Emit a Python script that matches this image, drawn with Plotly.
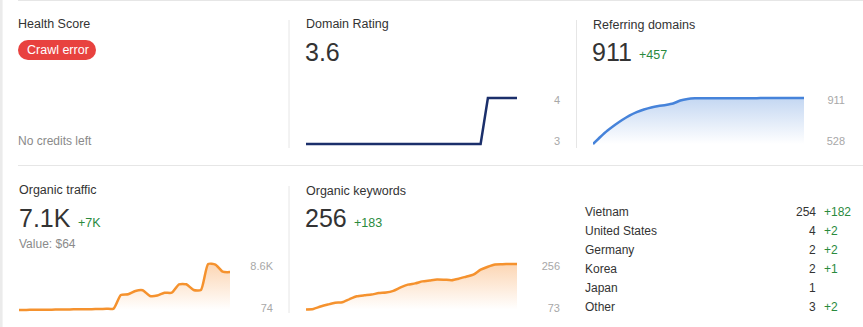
import plotly.graph_objects as go

W, H = 863, 327

# ---------------- data ----------------
dr_values = [3.0, 3.0, 3.0, 3.0, 3.0, 3.0, 3.0, 3.0, 3.0, 3.0,
             3.0, 3.0, 3.0, 3.0, 3.0, 3.0, 3.0, 3.0, 3.0, 3.0,
             3.0, 3.0, 3.0, 3.0, 3.0, 3.6, 3.6, 3.6, 3.6, 3.6]
dr_ticks = ["3", "4"]

rd_values = [528, 586, 640, 686, 728, 765, 794, 815, 832, 844,
             853, 865, 890, 903, 908, 909, 909, 909, 908, 908,
             908, 908, 909, 910, 911, 911, 911, 911, 911, 911]
rd_ticks = ["528", "911"]

traffic_values = [74, 90, 105, 120, 135, 150, 165, 185, 200, 215,
                  235, 255, 300, 330, 2854, 2984, 3596, 3725, 2669, 2750,
                  3280, 3280, 4837, 4837, 3781, 3781, 8600, 8500, 7173, 7100]
traffic_ticks = ["74", "8.6K"]

kw_values = [73, 75, 85, 93, 100, 102, 115, 126, 130, 133,
             139, 141, 148, 162, 173, 178, 186, 190, 194, 193,
             191, 197, 205, 213, 233, 245, 254, 255, 256, 256]
kw_ticks = ["73", "256"]

countries = ["Vietnam", "United States", "Germany", "Korea", "Japan", "Other"]
country_keywords = [254, 4, 2, 2, 1, 3]
country_change = [182, 2, 2, 1, 0, 2]

headline = {
    "dr": "3.6",
    "rd": "911", "rd_delta": "+457",
    "traffic": "7.1K", "traffic_delta": "+7K", "traffic_value": "Value: $64",
    "kw": "256", "kw_delta": "+183",
}

# ---------------- styling ----------------
FONT = "Liberation Sans, Arial, sans-serif"
DARK = "#333333"
GREEN = "#2a8a3d"
GREY = "#8a8a8a"
TICK = "#a8a8a8"
DIV = "#e6e6e6"
ORANGE = "#f5922e"
ORANGE_FILL = "#fcd6b4"
BLUE = "#4683da"
BLUE_FILL = "#c4d7f2"
NAVY = "#1b2f6b"


def px(x):
    return x / W


def py(y):
    return 1 - y / H


fig = go.Figure()

# chart boxes in pixels: x0, x1, y of max line, y of min line, plot top, plot bottom,
# right edge of the min/max labels, and how far the labels sit inside the extremes
panels = [
    dict(values=dr_values, ticks=dr_ticks, color=NAVY, fill=None, shape="linear",
         x0=306, x1=517, ymax=98, ymin=144, top=94, bot=148, lab=560, inset=(2.5, 2.5)),
    dict(values=rd_values, ticks=rd_ticks, color=BLUE, fill=BLUE_FILL, shape="spline",
         x0=593, x1=804, ymax=98, ymin=144, top=94, bot=148, lab=845, inset=(2.5, 2.5)),
    dict(values=traffic_values, ticks=traffic_ticks, color=ORANGE, fill=ORANGE_FILL, shape="spline",
         x0=19, x1=230, ymax=264, ymin=310, top=260, bot=313, lab=273, inset=(2, 2)),
    dict(values=kw_values, ticks=kw_ticks, color=ORANGE, fill=ORANGE_FILL, shape="spline",
         x0=306, x1=517, ymax=264, ymin=309.5, top=260, bot=313, lab=560, inset=(1.5, 2)),
]

for i, p in enumerate(panels, start=1):
    vals = p["values"]
    lo, hi = min(vals), max(vals)
    per_px = (hi - lo) / (p["ymin"] - p["ymax"])
    yrange = [lo - (p["bot"] - p["ymin"]) * per_px, hi + (p["ymax"] - p["top"]) * per_px]
    xs = list(range(len(vals)))
    xa = "x" if i == 1 else f"x{i}"
    ya = "y" if i == 1 else f"y{i}"
    trace = dict(
        x=xs, y=vals, mode="lines", xaxis=xa, yaxis=ya,
        line=dict(color=p["color"], width=2.5, shape=p["shape"],
                  **({"smoothing": 0.6} if p["shape"] == "spline" else {})),
        hoverinfo="skip", showlegend=False,
    )
    if p["fill"]:
        trace.update(
            fill="tozeroy",
            fillgradient=dict(type="vertical",
                              colorscale=[[0, "rgba(255,255,255,1)"], [1, p["fill"]]],
                              start=lo, stop=hi),
        )
    fig.add_trace(go.Scatter(**trace))

    in_lo, in_hi = p["inset"]
    xkey = "xaxis" if i == 1 else f"xaxis{i}"
    ykey = "yaxis" if i == 1 else f"yaxis{i}"
    fig.update_layout(**{
        xkey: dict(domain=[px(p["x0"]), px(p["x1"])], range=[0, len(vals) - 1],
                   visible=False, anchor=ya, fixedrange=True),
        ykey: dict(domain=[py(p["bot"]), py(p["top"])], range=yrange,
                   anchor="free", position=px(p["lab"]), side="left",
                   tickvals=[lo + in_lo * per_px, hi - in_hi * per_px], ticktext=p["ticks"],
                   tickfont=dict(family=FONT, size=11, color=TICK),
                   showgrid=False, zeroline=False, showline=False, ticks="",
                   automargin=False, fixedrange=True),
    })

# ---------------- text ----------------
ann = []


def text(x, y, s, size=12, color=DARK, anchor="left"):
    ann.append(dict(x=px(x), y=py(y), xref="paper", yref="paper", text=s,
                    showarrow=False, xanchor=anchor, yanchor="middle",
                    font=dict(family=FONT, size=size, color=color), borderpad=0))


text(17, 24, "Health Score", 12.5)
text(25.5, 50, "Crawl error", 12.5, "white")
text(17, 141, "No credits left", 12, GREY)

text(304.5, 24.5, "Domain Rating", 12.5)
text(304, 51.7, headline["dr"], 25)

text(591.5, 25, "Referring domains", 12.5)
text(591, 51.7, headline["rd"], 25)
text(637.5, 55.5, headline["rd_delta"], 12.5, GREEN)

text(17.5, 190.5, "Organic traffic", 12.5)
text(17.5, 217.5, headline["traffic"], 25)
text(76.5, 222.8, headline["traffic_delta"], 12.5, GREEN)
text(17.5, 244, headline["traffic_value"], 12, GREY)

text(304.5, 190.8, "Organic keywords", 12.5)
text(304, 217.7, headline["kw"], 25)
text(352.5, 223, headline["kw_delta"], 12.5, GREEN)

for r, (name, kw, ch) in enumerate(zip(countries, country_keywords, country_change)):
    yc = 211.7 + 19 * r
    text(583.5, yc, name, 12)
    text(816.5, yc, str(kw), 12, DARK, "right")
    if ch:
        text(822.5, yc, f"+{ch}", 12, GREEN)

# ---------------- frame: dividers, badge ----------------
shapes = [
    dict(type="rect", x0=0, x1=px(2.6), y0=0, y1=1, xref="paper", yref="paper",
         fillcolor="#ebebeb", line=dict(width=0), layer="below"),
    dict(type="line", x0=px(18), x1=1, y0=py(0.5), y1=py(0.5), xref="paper", yref="paper",
         line=dict(color=DIV, width=1)),
    dict(type="line", x0=px(18), x1=1, y0=py(165.5), y1=py(165.5), xref="paper", yref="paper",
         line=dict(color=DIV, width=1)),
    dict(type="line", x0=px(289), x1=px(289), y0=py(20), y1=py(148), xref="paper", yref="paper",
         line=dict(color=DIV, width=1)),
    dict(type="line", x0=px(576.5), x1=px(576.5), y0=py(20), y1=py(148), xref="paper", yref="paper",
         line=dict(color=DIV, width=1)),
    dict(type="line", x0=px(289), x1=px(289), y0=py(186), y1=py(313), xref="paper", yref="paper",
         line=dict(color=DIV, width=1)),
    # pill badge
    dict(type="circle", x0=px(18), x1=px(38), y0=py(60), y1=py(40), xref="paper", yref="paper",
         fillcolor="#e8423f", line=dict(width=0), layer="below"),
    dict(type="circle", x0=px(76), x1=px(96), y0=py(60), y1=py(40), xref="paper", yref="paper",
         fillcolor="#e8423f", line=dict(width=0), layer="below"),
    dict(type="rect", x0=px(28), x1=px(86), y0=py(60), y1=py(40), xref="paper", yref="paper",
         fillcolor="#e8423f", line=dict(width=0), layer="below"),
]

fig.update_layout(
    width=W, height=H,
    margin=dict(l=0, r=0, t=0, b=0),
    paper_bgcolor="white", plot_bgcolor="rgba(0,0,0,0)",
    template="none",
    annotations=ann, shapes=shapes,
    showlegend=False,
)

fig.write_html("out.html", config={"displayModeBar": False})
